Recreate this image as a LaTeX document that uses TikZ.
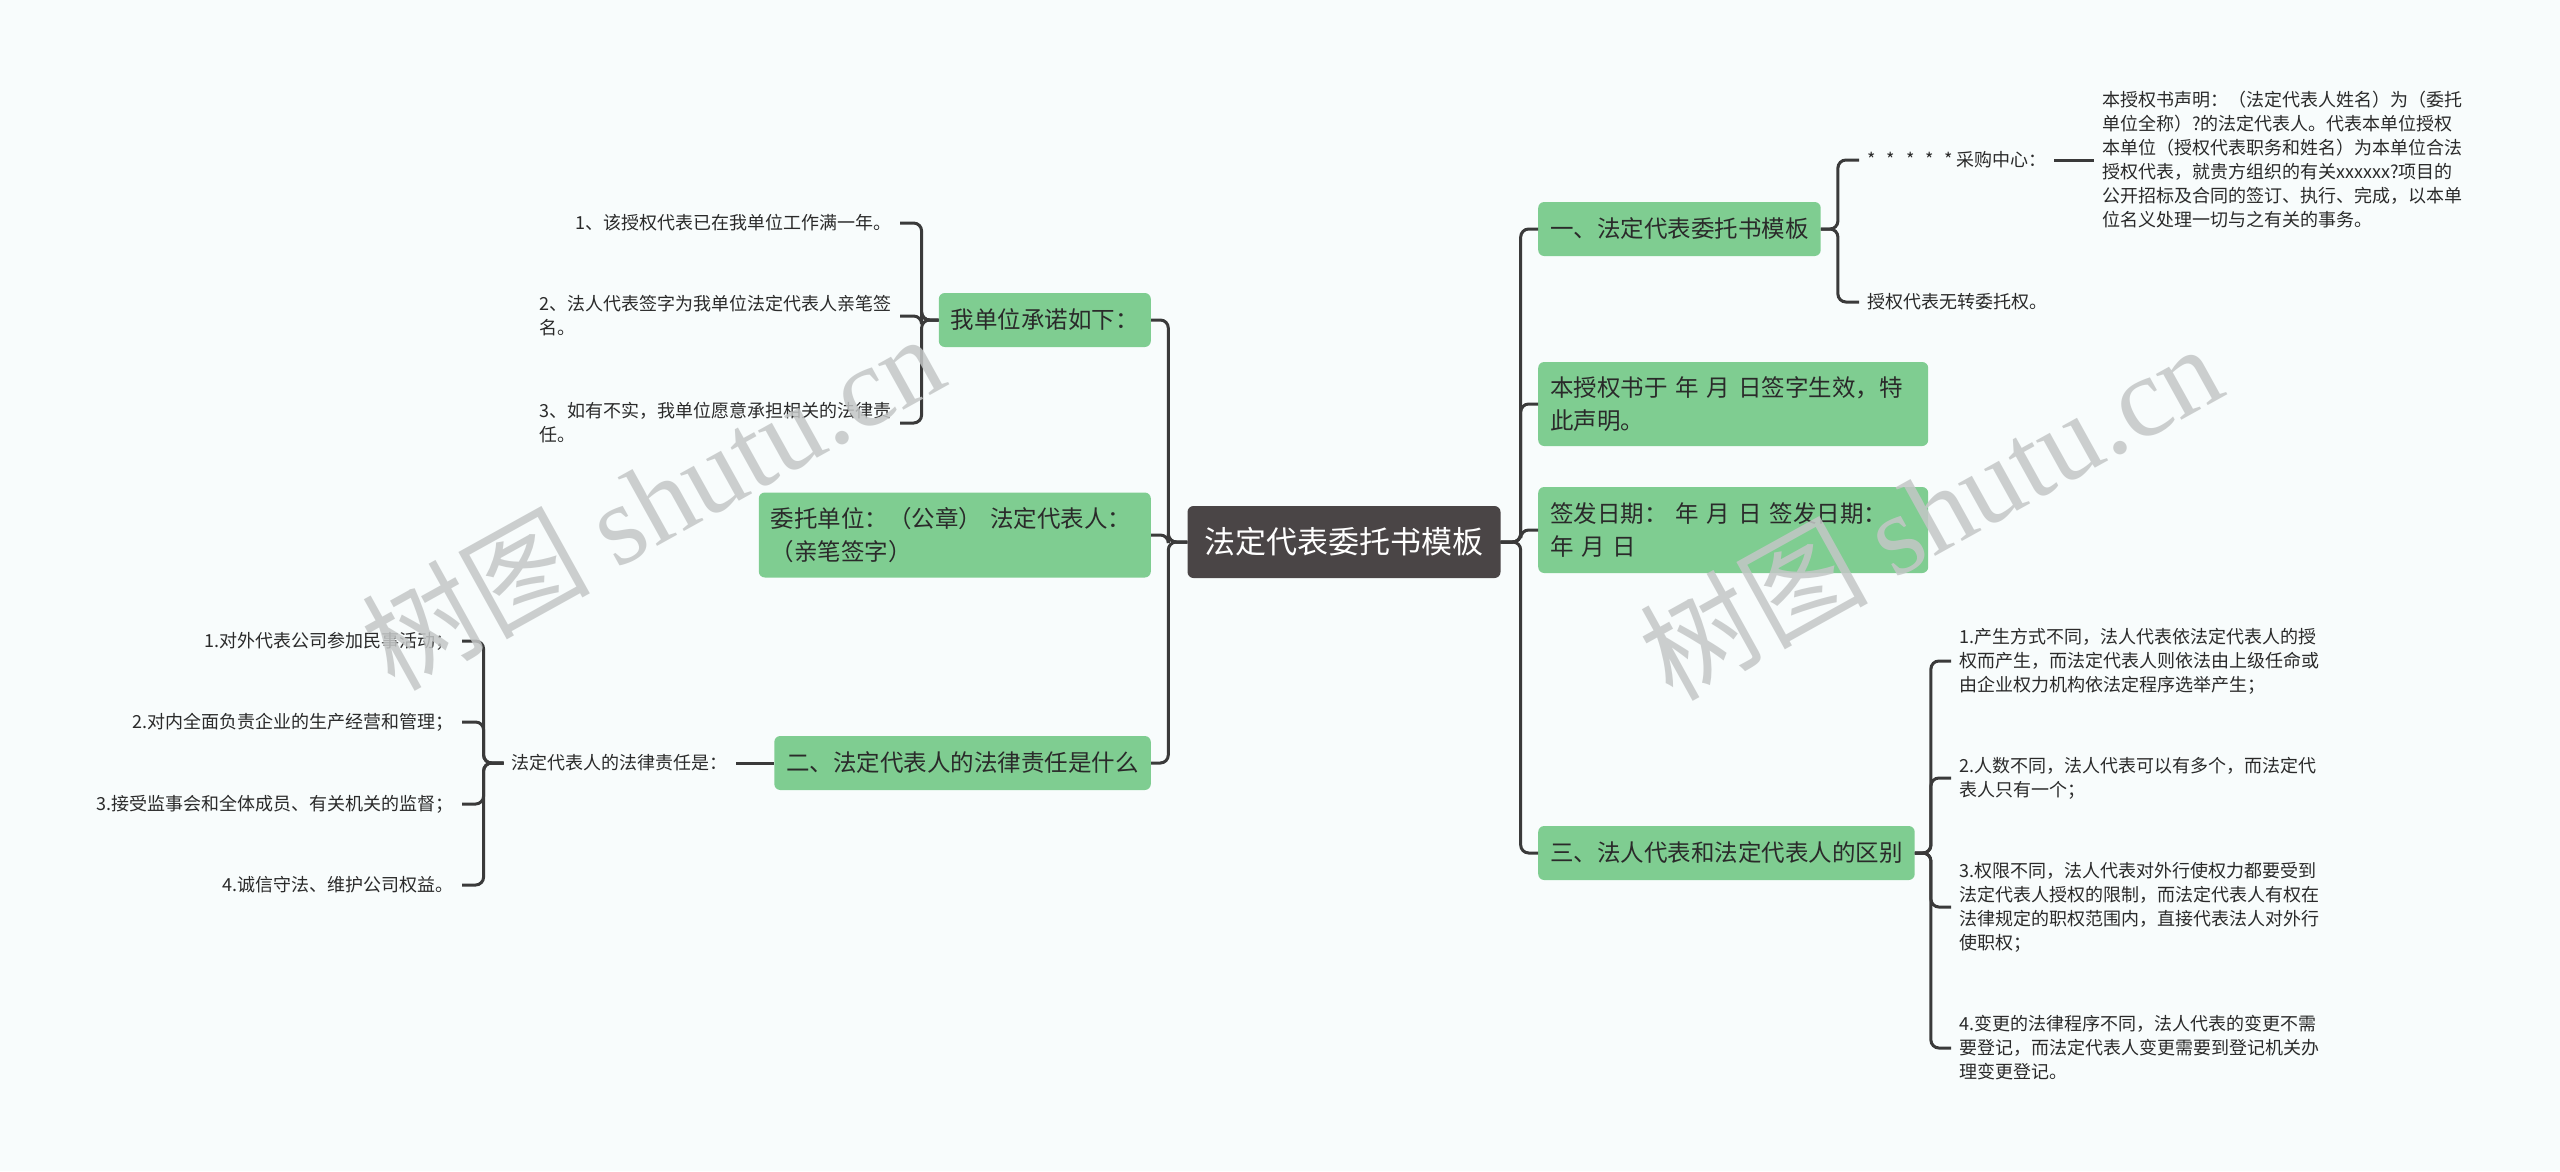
\documentclass[tikz,border=0pt]{standalone}
\usepackage{fontspec}
\setmainfont{Noto Sans CJK SC}
\newfontfamily\wmfont{Liberation Serif}

\definecolor{bgcol}{HTML}{F8FCFC}
\definecolor{topiccol}{HTML}{7FCD91}
\definecolor{rootcol}{HTML}{4A4546}
\definecolor{linecol}{HTML}{3A3A3A}
\definecolor{textcol}{HTML}{2A2A2A}
\definecolor{wmcol}{HTML}{C4C7C7}

\tikzset{
  rootbox/.style={fill=rootcol, rounded corners=6pt, text=white,
    font=\fontsize{31}{31}\selectfont, minimum width=313pt, minimum height=72pt},
  topic/.style={fill=topiccol, rounded corners=6pt, inner xsep=12pt,
    inner ysep=0pt, minimum height=54pt, text=textcol, align=left,
    font=\fontsize{23.5}{33}\selectfont},
  leaf/.style={inner xsep=8pt, inner ysep=2pt, text=textcol, align=left,
    font=\fontsize{18}{24}\selectfont},
  link/.style={draw=linecol, line width=3pt, rounded corners=8pt},
  wmtext/.style={text=wmcol, opacity=0.85, rotate=29,
    font=\fontsize{114}{114}\selectfont}
}
\newcommand{\stargap}{\hspace{11pt}}

\begin{document}
\begin{tikzpicture}[x=1pt, y=-1pt]
  \fill[bgcol] (0,0) rectangle (2560,1171);
  \useasboundingbox (0,0) rectangle (2560,1171);

  % centre
  \node[rootbox] (root) at (1344,542) {法定代表委托书模板};

  % right side
  \node[topic, anchor=west] (r1) at (1538,229) {一、法定代表委托书模板};
  \node[topic, anchor=west, text width=366pt, minimum height=84pt] (r2) at (1538,404)
    {本授权书于 年 月 日签字生效，特\\此声明。};
  \node[topic, anchor=west, text width=366pt, minimum height=86pt] (r3) at (1538,530)
    {签发日期： 年 月 日 签发日期：\\年 月 日};
  \node[topic, anchor=west] (r4) at (1538,853) {三、法人代表和法定代表人的区别};

  \node[leaf, anchor=west] (r1a) at (1859,160)
    {*\stargap*\stargap*\stargap*\stargap*\hspace{3pt}采购中心：};
  \node[leaf, anchor=west] (r1b) at (2094,160)
    {本授权书声明：（法定代表人姓名）为（委托\\
     单位全称）?的法定代表人。代表本单位授权\\
     本单位（授权代表职务和姓名）为本单位合法\\
     授权代表，就贵方组织的有关xxxxxx?项目的\\
     公开招标及合同的签订、执行、完成，以本单\\
     位名义处理一切与之有关的事务。};
  \node[leaf, anchor=west] (r1c) at (1859,302) {授权代表无转委托权。};

  \node[leaf, anchor=west] (r4a) at (1951,661)
    {1.产生方式不同，法人代表依法定代表人的授\\
     权而产生，而法定代表人则依法由上级任命或\\
     由企业权力机构依法定程序选举产生；};
  \node[leaf, anchor=west] (r4b) at (1951,778)
    {2.人数不同，法人代表可以有多个，而法定代\\
     表人只有一个；};
  \node[leaf, anchor=west] (r4c) at (1951,907)
    {3.权限不同，法人代表对外行使权力都要受到\\
     法定代表人授权的限制，而法定代表人有权在\\
     法律规定的职权范围内，直接代表法人对外行\\
     使职权；};
  \node[leaf, anchor=west] (r4d) at (1951,1048)
    {4.变更的法律程序不同，法人代表的变更不需\\
     要登记，而法定代表人变更需要到登记机关办\\
     理变更登记。};

  % left side
  \node[topic, anchor=east] (l1) at (1151,320) {我单位承诺如下：};
  \node[topic, anchor=east, text width=368pt, minimum height=85pt] (l2) at (1151,535)
    {委托单位：（公章） 法定代表人：\\（亲笔签字）};
  \node[topic, anchor=east] (l3) at (1151,763) {二、法定代表人的法律责任是什么};

  \node[leaf, anchor=east] (l1a) at (900,223) {1、该授权代表已在我单位工作满一年。};
  \node[leaf, anchor=east] (l1b) at (900,316)
    {2、法人代表签字为我单位法定代表人亲笔签\\名。};
  \node[leaf, anchor=east] (l1c) at (900,423)
    {3、如有不实，我单位愿意承担相关的法律责\\任。};

  \node[leaf, anchor=east] (l3a) at (736,763) {法定代表人的法律责任是：};
  \node[leaf, anchor=east] (l3b) at (462,641) {1.对外代表公司参加民事活动；};
  \node[leaf, anchor=east] (l3c) at (462,722) {2.对内全面负责企业的生产经营和管理；};
  \node[leaf, anchor=east] (l3d) at (462,804) {3.接受监事会和全体成员、有关机关的监督；};
  \node[leaf, anchor=east] (l3e) at (462,885) {4.诚信守法、维护公司权益。};

  % connectors
  \foreach \n in {r1,r2,r3,r4}
    \draw[link] (root.east) -- ++(20,0) |- (\n.west);
  \foreach \n in {l1,l2,l3}
    \draw[link] (root.west) -- ++(-19,0) |- (\n.east);
  \foreach \n in {r1a,r1c}
    \draw[link] (r1.east) -- ++(17,0) |- (\n.west);
  \draw[link] (r1a.east) -- (r1b.west);
  \foreach \n in {r4a,r4b,r4c,r4d}
    \draw[link] (r4.east) -- ++(16,0) |- (\n.west);
  \foreach \n in {l1a,l1b,l1c}
    \draw[link] (l1.west) -- ++(-17,0) |- (\n.east);
  \draw[link] (l3.west) -- (l3a.east);
  \foreach \n in {l3b,l3c,l3d,l3e}
    \draw[link] (l3a.west) -- ++(-20,0) |- (\n.east);

  % watermarks
  \node[wmtext] (wm1) at (652,500) {树图 {\wmfont shutu.cn}};
  \node[wmtext] (wm2) at (1930,510) {树图 {\wmfont shutu.cn}};
\end{tikzpicture}
\end{document}
